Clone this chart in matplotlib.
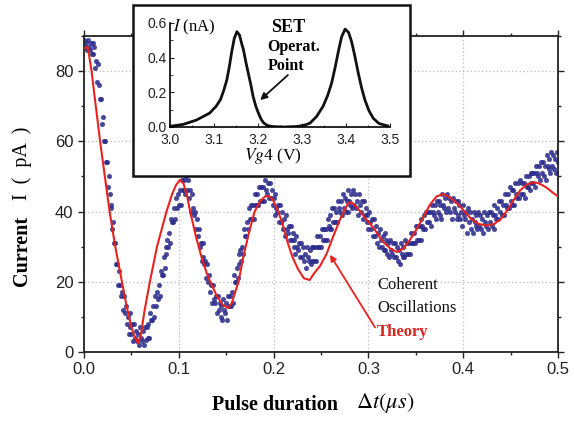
import numpy as np
import matplotlib
matplotlib.use("Agg")
import matplotlib.pyplot as plt
from matplotlib.patches import Rectangle
from matplotlib.ticker import MultipleLocator

plt.rcParams["font.family"] = ["Liberation Sans", "DejaVu Sans"]
plt.rcParams["mathtext.fontset"] = "stix"

# ---- measured current vs pulse duration (one sample per ns) ----
pulse_t = np.linspace(0.0, 0.5, 501)
current_meas = [
    89, 87, 88, 86, 89, 87, 86, 88, 85, 88,
    85, 87, 81, 83, 77, 82, 76, 72, 72, 65,
    67, 60, 60, 54, 54, 47, 50, 45, 41, 42,
    35, 37, 31, 31, 25, 25, 19, 23, 19, 16,
    17, 12, 16, 11, 13, 8, 10, 5, 11, 7,
    5, 8, 3, 8, 4, 6, 3, 5, 2, 7,
    4, 3, 6, 2, 7, 3.5, 7, 4, 8, 4,
    11, 9, 9, 13, 10, 16, 13, 17, 15, 19,
    16, 23, 22, 22, 27, 24, 30, 28, 32, 30,
    34, 31, 38, 37, 37, 41, 38, 44, 41, 45,
    42, 46, 42, 49, 46, 46, 49, 45, 50, 46,
    49, 44, 46, 40, 45, 41, 39, 40, 35, 38,
    33, 35, 30, 31, 26, 31, 27, 25, 26, 21,
    25, 20, 22, 17, 19, 14, 19, 15, 14, 16,
    11, 16, 12, 14, 10, 13, 9, 15, 12, 11,
    14, 9, 16, 13, 16, 13, 17, 14, 22, 20,
    20, 24, 21, 28, 25, 29, 26, 30, 28, 35,
    33, 33, 37, 35, 41, 38, 42, 38, 42, 38,
    45, 42, 42, 45, 42, 47, 43, 47, 43, 47,
    43, 49, 46, 45, 48, 44, 48, 44, 46, 42,
    44, 39, 45, 41, 40, 42, 37, 42, 37, 40,
    35, 38, 33, 39, 35, 34, 36, 32, 36, 32,
    34, 30, 32, 28, 33, 30, 29, 31, 27, 31,
    27, 30, 26, 28, 24, 30, 27, 26, 29, 25,
    30, 26, 30, 26, 30, 26, 33, 30, 30, 33,
    30, 35, 32, 35, 32, 35, 32, 38, 36, 35,
    39, 35, 41, 37, 41, 37, 40, 37, 43, 41,
    40, 43, 39, 45, 41, 44, 40, 43, 40, 46,
    43, 42, 45, 41, 46, 42, 45, 41, 43, 39,
    45, 42, 40, 43, 38, 43, 39, 41, 37, 39,
    35, 40, 37, 35, 38, 33, 38, 33, 36, 31,
    34, 30, 35, 32, 30, 33, 29, 34, 29, 32,
    28, 31, 27, 32, 29, 28, 31, 27, 31, 27,
    30, 26, 29, 25, 31, 28, 27, 30, 27, 32,
    28, 31, 28, 31, 28, 34, 31, 31, 34, 31,
    36, 32, 36, 32, 36, 32, 38, 36, 35, 39,
    35, 40, 37, 40, 37, 40, 36, 42, 40, 39,
    42, 38, 43, 40, 43, 39, 42, 38, 45, 42,
    41, 44, 40, 45, 41, 44, 40, 43, 38, 44,
    41, 40, 43, 38, 43, 39, 42, 38, 40, 36,
    42, 39, 38, 40, 34, 41, 37, 40, 35, 38,
    34, 40, 37, 36, 39, 35, 40, 36, 39, 35,
    38, 34, 40, 37, 36, 39, 35, 40, 37, 40,
    36, 39, 35, 42, 39, 38, 41, 38, 43, 40,
    43, 39, 42, 39, 45, 42, 41, 45, 41, 47,
    43, 46, 42, 46, 42, 48, 45, 44, 48, 44,
    49, 45, 48, 45, 48, 44, 50, 47, 47, 50,
    46, 51, 48, 51, 48, 51, 47, 53, 51, 50,
    53, 49, 54, 51, 54, 50, 53, 49, 56, 53,
    52, 55, 51, 57, 53, 56, 52, 55, 51, 57,
    54,
]

# ---- theory curve ----
theory_t = [0.000, 0.004, 0.008, 0.012, 0.017, 0.022, 0.027, 0.033, 0.040, 0.045,
            0.050, 0.054, 0.057, 0.060, 0.064, 0.0695, 0.077, 0.087, 0.093, 0.097,
            0.101, 0.105, 0.109, 0.112, 0.118, 0.124, 0.130, 0.135, 0.140, 0.146,
            0.152, 0.156, 0.160, 0.163, 0.168, 0.174, 0.180, 0.186, 0.191, 0.195,
            0.199, 0.205, 0.210, 0.215, 0.220, 0.226, 0.232, 0.238, 0.243, 0.249,
            0.256, 0.263, 0.270, 0.275, 0.279, 0.283, 0.290, 0.297, 0.305, 0.315,
            0.323, 0.330, 0.337, 0.344, 0.351, 0.358, 0.365, 0.372, 0.379, 0.386,
            0.393, 0.400, 0.408, 0.416, 0.425, 0.433, 0.440, 0.447, 0.453, 0.460,
            0.467, 0.473, 0.478, 0.483, 0.488, 0.494, 0.500]
theory_I = [86.5, 86.8, 80.0, 71.0, 60.0, 50.0, 40.0, 30.0, 20.0, 13.0,
            7.0, 4.0, 2.5, 5.0, 12.0, 20.0, 30.0, 40.0, 45.0, 47.5,
            49.0, 48.0, 44.0, 40.0, 33.0, 27.0, 22.0, 19.0, 16.0, 13.5,
            12.5, 14.0, 17.5, 20.0, 27.0, 34.0, 40.0, 43.0, 44.3, 44.4,
            43.5, 40.0, 36.0, 31.0, 27.0, 23.5, 21.0, 20.5, 22.5, 24.5,
            28.0, 33.0, 37.7, 40.5, 42.5, 42.5, 40.5, 38.0, 35.5, 31.5,
            29.5, 28.5, 29.5, 32.0, 35.0, 38.5, 42.0, 44.3, 45.0, 44.0,
            42.5, 40.5, 38.0, 36.5, 36.0, 36.5, 38.0, 40.5, 43.2, 46.0,
            47.7, 48.3, 48.2, 47.6, 46.8, 45.5, 44.3]

# ---- SET transfer curve (inset) ----
gate_V = [3.000, 3.030, 3.060, 3.090, 3.105, 3.115, 3.122, 3.129, 3.135, 3.140,
          3.146, 3.152, 3.158, 3.163, 3.167, 3.172, 3.178, 3.184, 3.189, 3.195,
          3.201, 3.207, 3.213, 3.222, 3.235, 3.260, 3.288, 3.305, 3.318, 3.333,
          3.348, 3.358, 3.367, 3.375, 3.383, 3.390, 3.398, 3.406, 3.413, 3.420,
          3.428, 3.435, 3.443, 3.452, 3.462, 3.475, 3.495]
set_I = [0.004, 0.015, 0.040, 0.080, 0.120, 0.160, 0.210, 0.270, 0.350, 0.430,
         0.510, 0.550, 0.530, 0.480, 0.445, 0.380, 0.310, 0.240, 0.175, 0.120,
         0.080, 0.045, 0.023, 0.008, 0.002, 0.000, 0.003, 0.010, 0.022, 0.060,
         0.120, 0.180, 0.250, 0.340, 0.440, 0.520, 0.565, 0.545, 0.490, 0.410,
         0.310, 0.230, 0.156, 0.095, 0.050, 0.020, 0.006]

W, H = 574, 422
fig = plt.figure(figsize=(W / 100, H / 100), dpi=100)


def fx(px):
    return px / W


def fy(py):
    return 1 - py / H


serif = ["Liberation Serif", "DejaVu Serif"]

ax = fig.add_axes([fx(84), fy(352), fx(558) - fx(84), fy(36) - fy(352)])
ax.plot(pulse_t, current_meas, "o", ms=3.3, color="#2c2c8c", mec="#2c2c8c",
        mew=0.3, alpha=0.88, zorder=2)
ax.plot(theory_t, theory_I, "-", color="#e8231f", lw=1.5, zorder=3)

ax.set_xlim(0, 0.5)
ax.set_ylim(0, 90)
ax.xaxis.set_major_locator(MultipleLocator(0.1))
ax.xaxis.set_minor_locator(MultipleLocator(0.05))
ax.yaxis.set_major_locator(MultipleLocator(20))
ax.yaxis.set_minor_locator(MultipleLocator(10))
ax.set_xticks([0, 0.1, 0.2, 0.3, 0.4, 0.5])
ax.set_xticklabels(["0.0", "0.1", "0.2", "0.3", "0.4", "0.5"])
ax.tick_params(which="both", direction="out", top=True, right=True,
               labelsize=12, colors="#222222")
ax.tick_params(which="major", length=4, width=1.0)
ax.tick_params(which="minor", length=2.5, width=1.0)
ax.grid(True, which="major", linestyle=(0, (1, 2)), color="#b8b8b8", lw=0.9)
for s in ax.spines.values():
    s.set_linewidth(1.3)
    s.set_color("#222222")

# axis titles
fig.text(fx(22), fy(251), "Current", rotation=90, ha="center", va="center",
         family=serif, weight="bold", fontsize=14.5)
fig.text(fx(22), fy(163), "I  (  pA  )", rotation=90, ha="center",
         va="center", family=serif, fontsize=14.5)
fig.text(fx(212), fy(405), "Pulse duration", ha="left", va="center",
         family=serif, weight="bold", fontsize=14.5)
fig.text(fx(356), fy(403), r"$\Delta t(\mu s)$", ha="left", va="center",
         fontsize=16)

# annotations in the main panel
ax.text(0.309, 19.1, "Coherent", family=serif, fontsize=12, va="center",
        ha="left", color="#111111")
ax.text(0.309, 12.6, "Oscillations", family=serif, fontsize=12, va="center",
        ha="left", color="#111111")
ax.text(0.309, 5.7, "Theory", family=serif, fontsize=12, weight="bold",
        va="center", ha="left", color="#d8231f")
ax.annotate("", xy=(0.2595, 27.7), xytext=(0.307, 7.0),
            arrowprops=dict(arrowstyle="-|>", color="#e8231f", lw=1.3,
                            mutation_scale=9, shrinkA=0, shrinkB=0))

# ---- inset ----
frame = Rectangle((fx(133), fy(176)), fx(410) - fx(133), fy(5) - fy(176),
                  transform=fig.transFigure, facecolor="white",
                  edgecolor="#111111", lw=1.8, zorder=5)
fig.patches.append(frame)

axi = fig.add_axes([fx(170), fy(127), fx(390) - fx(170), fy(23) - fy(127)],
                   zorder=6)
axi.patch.set_alpha(0)
axi.plot(gate_V, set_I, "-", color="#111111", lw=2.0)
axi.set_xlim(3.0, 3.5)
axi.set_ylim(0, 0.6)
axi.xaxis.set_major_locator(MultipleLocator(0.1))
axi.xaxis.set_minor_locator(MultipleLocator(0.05))
axi.yaxis.set_major_locator(MultipleLocator(0.2))
axi.yaxis.set_minor_locator(MultipleLocator(0.1))
axi.set_xticks([3.0, 3.1, 3.2, 3.3, 3.4, 3.5])
axi.set_xticklabels(["3.0", "3.1", "3.2", "3.3", "3.4", "3.5"])
axi.set_yticks([0, 0.2, 0.4, 0.6])
axi.set_yticklabels(["0.0", "0.2", "0.4", "0.6"])
axi.tick_params(which="both", direction="in", labelsize=10, colors="#222222")
axi.tick_params(axis="x", pad=4)
axi.tick_params(axis="y", pad=2)
axi.tick_params(which="major", length=3)
axi.tick_params(which="minor", length=1.8)
axi.spines["top"].set_visible(False)
axi.spines["right"].set_visible(False)
for s in ("left", "bottom"):
    axi.spines[s].set_linewidth(1.2)

fig.text(fx(173), fy(27), r"$I$ (nA)", ha="left", va="center",
         family=serif, fontsize=12, zorder=7)
fig.text(fx(273), fy(156), r"$Vg$4 (V)", ha="center", va="center",
         family=serif, fontsize=12.5, zorder=7)
fig.text(fx(271), fy(27), "SET", ha="left", va="center", family=serif,
         fontsize=13, weight="bold", zorder=7)
fig.text(fx(267), fy(47), "Operat.", ha="left", va="center", family=serif,
         fontsize=11.5, weight="bold", zorder=7)
fig.text(fx(268), fy(66), "Point", ha="left", va="center", family=serif,
         fontsize=11.5, weight="bold", zorder=7)
axi.annotate("", xy=(3.205, 0.155), xytext=(3.268, 0.30),
             arrowprops=dict(arrowstyle="-|>", color="#111111", lw=1.3,
                             mutation_scale=10, shrinkA=0, shrinkB=0))

fig.savefig("out.png", dpi=100)
